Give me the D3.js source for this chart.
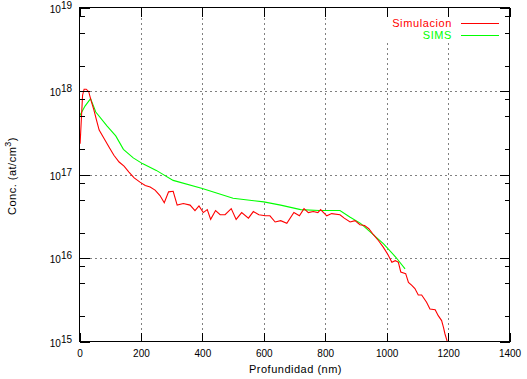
<!DOCTYPE html>
<html>
<head>
<meta charset="utf-8">
<script src="https://cdn.jsdelivr.net/npm/d3@7"></script>
<style>
  html, body { margin: 0; padding: 0; background: #fff; }
  svg { display: block; }
  text { font-family: "Liberation Sans", Arial, Helvetica, sans-serif; }
</style>
</head>
<body>
<svg id="chart" width="527" height="379"></svg>
<script>
// ---------- data ----------
const simDepth = [2, 10, 15, 22, 30, 38, 47, 56, 64, 80, 96, 112, 129, 145, 161, 178, 197, 214, 230, 246,
  262, 276, 290, 305, 318, 338, 360, 376, 389, 403, 416, 427, 443, 458, 474, 494, 510, 528, 550, 566,
  584, 605, 620, 637, 655, 675, 698, 716, 731, 745, 761, 776, 785, 805, 821, 848, 862, 881, 897, 913,
  928, 942, 957, 973, 989, 1004, 1017, 1028, 1038, 1046, 1062, 1071, 1082, 1092, 1103, 1114, 1130, 1141,
  1158, 1168, 1179, 1185, 1190, 1198];
const simConc = [2.34e17, 8.9e17, 1.05e18, 1.05e18, 9.8e17, 7.6e17, 5.9e17, 4.4e17, 3.4e17, 2.7e17,
  2.14e17, 1.70e17, 1.41e17, 1.26e17, 1.07e17, 9.1e16, 8.1e16, 7.4e16, 7.1e16, 6.5e16,
  5.6e16, 4.6e16, 6.2e16, 6.3e16, 4.3e16, 4.5e16, 4.3e16, 3.7e16, 4.2e16, 3.5e16,
  3.8e16, 2.9e16, 3.7e16, 3.3e16, 3.3e16, 3.9e16, 2.9e16, 3.5e16, 3.0e16, 3.6e16,
  3.3e16, 3.2e16, 3.2e16, 2.7e16, 2.8e16, 2.6e16, 3.5e16, 3.2e16, 3.9e16, 3.5e16,
  3.6e16, 3.5e16, 3.8e16, 3.2e16, 3.4e16, 3.3e16, 3.0e16, 2.7e16, 2.8e16, 2.5e16,
  2.45e16, 2.24e16, 1.9e16, 1.62e16, 1.35e16, 1.10e16, 8.9e15, 9.3e15, 8.9e15, 6.8e15,
  6.5e15, 5.1e15, 4.7e15, 4.3e15, 3.6e15, 3.6e15, 2.95e15, 2.45e15, 2.4e15, 2.04e15,
  1.78e15, 1.48e15, 1.23e15, 9.8e14];

const simsDepth = [0, 18, 36, 53, 90, 118, 143, 175, 205, 250, 305, 400, 500, 600, 655, 720, 780, 848,
  880, 915, 950, 990, 1030, 1060];
const simsConc = [5.0e17, 6.6e17, 8.1e17, 5.6e17, 3.8e17, 2.9e17, 2.0e17, 1.58e17, 1.35e17, 1.12e17,
  8.5e16, 6.8e16, 5.2e16, 4.7e16, 4.3e16, 3.8e16, 3.7e16, 3.7e16,
  3.1e16, 2.6e16, 2.0e16, 1.48e16, 1.02e16, 7.4e15];

const xTicks = [0, 200, 400, 600, 800, 1000, 1200, 1400];
const yExponents = [15, 16, 17, 18, 19];
const minorMultipliers = [2, 5, 8];
const seriesNames = ["Simulacion", "SIMS"];
const seriesColors = ["#ff0000", "#00ff00"];
const xTitle = "Profundidad (nm)";

// ---------- layout ----------
const svg = d3.select("#chart");
const L = 79.5, R = 509.5, T = 7.5, B = 341.5;

const x = d3.scaleLinear().domain([0, 1400]).range([L, R]);
const y = d3.scaleLog().domain([1e15, 1e19]).range([B, T]);

const defs = svg.append("defs");
defs.append("clipPath").attr("id", "clip")
  .append("rect").attr("x", L).attr("y", T).attr("width", R - L).attr("height", B - T);

// grid
const grid = svg.append("g").attr("stroke", "#808080").attr("stroke-width", 1)
  .attr("stroke-dasharray", "2,3").attr("shape-rendering", "crispEdges");
xTicks.slice(1, -1).forEach(t => {
  grid.append("line").attr("x1", Math.round(x(t)) + 0.5).attr("x2", Math.round(x(t)) + 0.5)
    .attr("y1", T).attr("y2", B);
});
yExponents.slice(1, -1).forEach(e => {
  const yy = Math.round(y(Math.pow(10, e))) + 0.5;
  grid.append("line").attr("x1", L).attr("x2", R).attr("y1", yy).attr("y2", yy);
});

// legend background (blanks grid behind key)
svg.append("rect").attr("x", 387).attr("y", 15).attr("width", 118).attr("height", 26).attr("fill", "#fff");

// data lines
const line = d3.line().x(d => x(d[0])).y(d => y(d[1]));
const simData = simDepth.map((d, i) => [d, simConc[i]]);
const simsData = simsDepth.map((d, i) => [d, simsConc[i]]);
const plot = svg.append("g").attr("clip-path", "url(#clip)");
plot.append("path").datum(simsData).attr("d", line).attr("fill", "none")
  .attr("stroke", seriesColors[1]).attr("stroke-width", 1.1);
plot.append("path").datum(simData).attr("d", line).attr("fill", "none")
  .attr("stroke", seriesColors[0]).attr("stroke-width", 1.1);

// axes via d3 axis generators (ticks inward, mirrored)
const fsTick = 10, fsLab = 11;
const xAxisB = d3.axisBottom(x).tickValues(xTicks).tickSize(-9).tickFormat(d3.format("d")).tickPadding(8);
const xAxisT = d3.axisTop(x).tickValues(xTicks).tickSize(-9).tickFormat("");
const majorY = yExponents.map(e => Math.pow(10, e));
const minorY = [];
yExponents.slice(0, -1).forEach(e => minorMultipliers.forEach(m => minorY.push(m * Math.pow(10, e))));
const yAxisL = d3.axisLeft(y).tickValues(majorY).tickSize(-10).tickFormat("");
const yAxisR = d3.axisRight(y).tickValues(majorY).tickSize(-10).tickFormat("");
const yMinL = d3.axisLeft(y).tickValues(minorY).tickSize(-5).tickFormat("");
const yMinR = d3.axisRight(y).tickValues(minorY).tickSize(-5).tickFormat("");

function styleAxis(g) {
  g.selectAll("path.domain").remove();
  g.selectAll("line").attr("stroke", "#000").attr("stroke-width", 1).attr("shape-rendering", "crispEdges");
  g.selectAll("text").attr("font-size", fsTick).attr("fill", "#000")
    .attr("font-family", "'Liberation Sans', Arial, sans-serif");
}
svg.append("g").attr("transform", `translate(0,${B})`).call(xAxisB).call(styleAxis);
svg.append("g").attr("transform", `translate(0,${T})`).call(xAxisT).call(styleAxis);
svg.append("g").attr("transform", `translate(${L},0)`).call(yAxisL).call(styleAxis);
svg.append("g").attr("transform", `translate(${R},0)`).call(yAxisR).call(styleAxis);
svg.append("g").attr("transform", `translate(${L},0)`).call(yMinL).call(styleAxis);
svg.append("g").attr("transform", `translate(${R},0)`).call(yMinR).call(styleAxis);

// frame
svg.append("rect").attr("x", L).attr("y", T).attr("width", R - L).attr("height", B - T)
  .attr("fill", "none").attr("stroke", "#000").attr("stroke-width", 1).attr("shape-rendering", "crispEdges");

// y tick labels: 10^n
yExponents.forEach(e => {
  const yy = y(Math.pow(10, e));
  const t = svg.append("text").attr("x", 72).attr("y", yy + 5).attr("text-anchor", "end")
    .attr("font-size", fsTick).attr("fill", "#000");
  t.append("tspan").text("10");
  t.append("tspan").attr("dy", -4).attr("font-size", 10).text(String(e));
});

// axis titles
svg.append("text").attr("x", (L + R) / 2 + 1).attr("y", 373).attr("text-anchor", "middle")
  .attr("font-size", fsLab).attr("letter-spacing", 0.5).attr("fill", "#000").text(xTitle);
const yt = svg.append("text").attr("transform", "translate(16,176) rotate(-90)")
  .attr("text-anchor", "middle").attr("font-size", fsLab).attr("letter-spacing", 0.5).attr("fill", "#000");
yt.append("tspan").text("Conc. (at/cm");
yt.append("tspan").attr("dy", -5).attr("font-size", 9).text("3");
yt.append("tspan").attr("dy", 5).text(")");

// legend
seriesNames.forEach((name, i) => {
  const ly = 23 + i * 12;
  svg.append("text").attr("x", 452).attr("y", ly + 4).attr("text-anchor", "end")
    .attr("font-size", fsLab).attr("letter-spacing", 0.6).attr("fill", seriesColors[i]).text(name);
  svg.append("line").attr("x1", 461).attr("x2", 499).attr("y1", ly + 0.5).attr("y2", ly + 0.5)
    .attr("stroke", seriesColors[i]).attr("stroke-width", 1).attr("shape-rendering", "crispEdges");
});
</script>
</body>
</html>
